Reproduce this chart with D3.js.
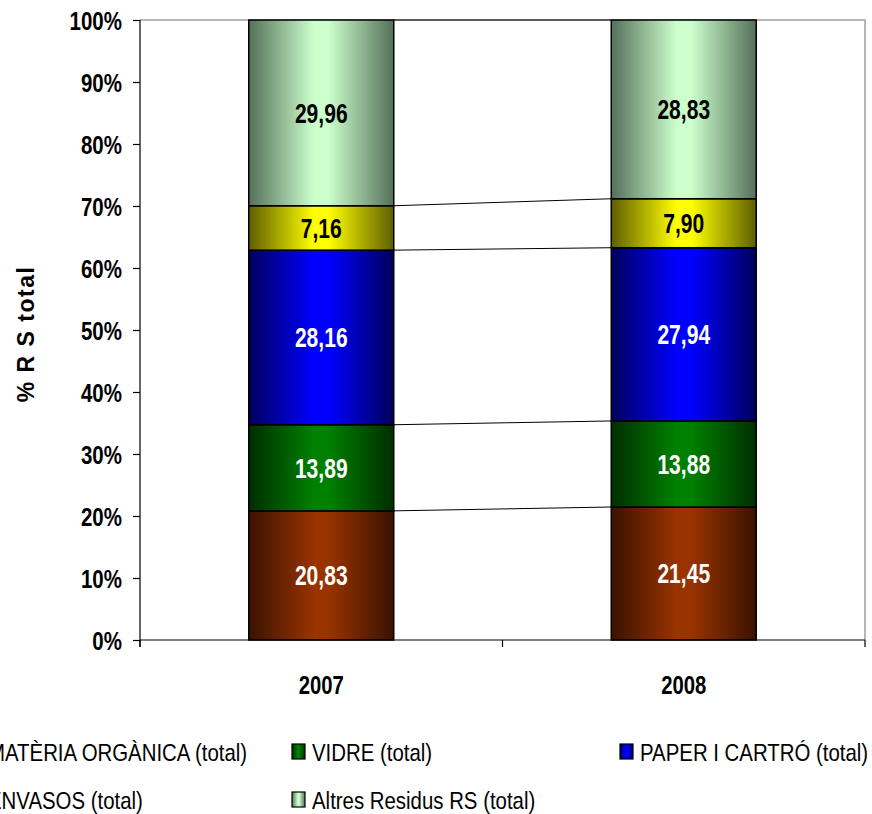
<!DOCTYPE html>
<html>
<head>
<meta charset="utf-8">
<script src="https://cdn.jsdelivr.net/npm/d3@7"></script>
<style>
  html, body { margin: 0; padding: 0; background: #fff; }
  svg { display: block; }
  text { font-family: "Liberation Sans", Arial, sans-serif; }
</style>
</head>
<body>
<svg id="chart" width="872" height="814"></svg>
<script>
// ---- data ----
const years = ["2007", "2008"];
const seriesNames = ["MATÈRIA ORGÀNICA (total)", "VIDRE (total)", "PAPER I CARTRÓ (total)", "ENVASOS (total)", "Altres Residus RS (total)"];
const materiaOrganica = [20.83, 21.45];
const vidre = [13.89, 13.88];
const paperCarto = [28.16, 27.94];
const envasos = [7.16, 7.90];
const altresResidus = [29.96, 28.83];
const yTickValues = [0, 10, 20, 30, 40, 50, 60, 70, 80, 90, 100];
const yTickLabels = ["0%", "10%", "20%", "30%", "40%", "50%", "60%", "70%", "80%", "90%", "100%"];
const yTitle = "% R S total";

// ---- styles ----
const seriesLight = ["#993300", "#008000", "#0000ff", "#ffff00", "#ccffcc"];
const seriesDark  = ["#3a1200", "#002e00", "#00005c", "#5e5e00", "#54705a"];
const labelColors = ["#fff", "#fff", "#fff", "#000", "#000"];
const NARROW = 0.82;

const svg = d3.select("#chart");
const plot = { left: 140, right: 865, top: 20, bottom: 640 };

const rows = years.map((y, i) => ({
  year: y,
  s0: materiaOrganica[i], s1: vidre[i], s2: paperCarto[i], s3: envasos[i], s4: altresResidus[i]
}));
const keys = ["s0", "s1", "s2", "s3", "s4"];
const stacked = d3.stack().keys(keys)(rows);

const x = d3.scaleBand().domain(years).range([plot.left, plot.right]).paddingInner(0.6).paddingOuter(0.3);
const y = d3.scaleLinear().domain([0, 100]).range([plot.bottom, plot.top]);

// condensed text helper: place at (px,py) with horizontal squeeze
function narrowText(sel, px, py, k) {
  return sel.attr("x", 0).attr("y", 0)
    .attr("transform", (d, i) => `translate(${px(d, i)},${py(d, i)}) scale(${k || NARROW},1)`);
}

// gradients
const defs = svg.append("defs");
keys.forEach((k, i) => {
  const g = defs.append("linearGradient").attr("id", "grad" + i)
    .attr("x1", "0%").attr("x2", "100%").attr("y1", "0%").attr("y2", "0%");
  g.append("stop").attr("offset", "0%").attr("stop-color", seriesDark[i]);
  g.append("stop").attr("offset", "45%").attr("stop-color", seriesLight[i]);
  g.append("stop").attr("offset", "55%").attr("stop-color", seriesLight[i]);
  g.append("stop").attr("offset", "100%").attr("stop-color", seriesDark[i]);
});

// plot area border (top & right, gray)
svg.append("path")
  .attr("d", `M${plot.left},${plot.top}H${plot.right}V${plot.bottom}`)
  .attr("fill", "none").attr("stroke", "#a0a0a0").attr("stroke-width", 1.5);

// series connector lines
const bw = x.bandwidth();
stacked.forEach(layer => {
  svg.append("line")
    .attr("x1", x(years[0]) + bw).attr("y1", y(layer[0][1]))
    .attr("x2", x(years[1])).attr("y2", y(layer[1][1]))
    .attr("stroke", "#000").attr("stroke-width", 1);
});

// bars
const layerG = svg.selectAll("g.layer").data(stacked).join("g").attr("class", "layer");
layerG.selectAll("rect").data((d, i) => d.map(v => ({ v, i }))).join("rect")
  .attr("x", d => x(d.v.data.year))
  .attr("y", d => y(d.v[1]))
  .attr("width", bw)
  .attr("height", d => y(d.v[0]) - y(d.v[1]))
  .attr("fill", d => `url(#grad${d.i})`)
  .attr("stroke", "#000").attr("stroke-width", 1.5);

// bar labels
narrowText(
  layerG.selectAll("text").data((d, i) => d.map(v => ({ v, i }))).join("text"),
  d => x(d.v.data.year) + bw / 2,
  d => (y(d.v[0]) + y(d.v[1])) / 2, 0.78)
  .attr("dy", "0.36em")
  .attr("text-anchor", "middle")
  .attr("font-size", 27).attr("font-weight", "bold")
  .attr("fill", d => labelColors[d.i])
  .text(d => (d.v[1] - d.v[0]).toFixed(2).replace(".", ","));

// y axis
const yAxis = d3.axisLeft(y).tickValues(yTickValues).tickFormat((d, i) => yTickLabels[i]).tickSize(7).tickSizeOuter(0);
const yg = svg.append("g").attr("transform", `translate(${plot.left},0)`).call(yAxis);
yg.select(".domain").remove();
yg.append("line").attr("x1", 0).attr("x2", 0).attr("y1", plot.top).attr("y2", plot.bottom + 7)
  .attr("stroke", "#000").attr("stroke-width", 1.2);
yg.selectAll(".tick line").attr("stroke", "#000").attr("stroke-width", 1.2);
yg.selectAll(".tick text").remove();
narrowText(yg.selectAll(".tick").append("text"), () => -18, () => 0)
  .attr("dy", "0.36em").attr("text-anchor", "end")
  .attr("font-size", 25).attr("font-weight", "bold").attr("fill", "#000")
  .text((d, i) => yTickLabels[yTickValues.indexOf(d)]);

// x axis
svg.append("line").attr("x1", plot.left).attr("x2", plot.right).attr("y1", plot.bottom).attr("y2", plot.bottom)
  .attr("stroke", "#000").attr("stroke-width", 1.2);
const boundaries = [plot.left, (x(years[0]) + bw + x(years[1])) / 2, plot.right];
svg.selectAll("line.xtick").data(boundaries).join("line").attr("class", "xtick")
  .attr("x1", d => d).attr("x2", d => d).attr("y1", plot.bottom).attr("y2", plot.bottom + 7)
  .attr("stroke", "#000").attr("stroke-width", 1.2);
narrowText(svg.selectAll("text.xlab").data(years).join("text").attr("class", "xlab"),
  d => x(d) + bw / 2, () => 685, 0.78)
  .attr("dy", "0.36em")
  .attr("text-anchor", "middle").attr("font-size", 26).attr("font-weight", "bold")
  .text(d => d);

// y title
svg.append("text")
  .attr("transform", `translate(34,${(plot.top + plot.bottom) / 2 + 4}) rotate(-90)`)
  .attr("text-anchor", "middle")
  .attr("font-size", 23).attr("font-weight", "bold").attr("letter-spacing", 1.5)
  .text(yTitle);

// legend
const legendX = [-12, 312, 640];
const legendY = [752, 800];
seriesNames.forEach((name, i) => {
  const col = i % 3, row = Math.floor(i / 3);
  const g = svg.append("g").attr("transform", `translate(${legendX[col]},${legendY[row]})`);
  g.append("rect").attr("x", -20).attr("y", -8).attr("width", 13).attr("height", 15)
    .attr("fill", `url(#grad${i})`).attr("stroke", "#000").attr("stroke-width", 1.2);
  g.append("text").attr("x", 0).attr("y", 0).attr("dy", "0.36em")
    .attr("transform", "scale(0.85,1)")
    .attr("font-size", 24).attr("fill", "#000").text(name);
});
</script>
</body>
</html>
